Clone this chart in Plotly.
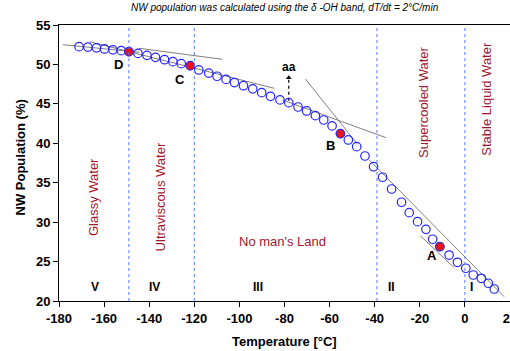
import plotly.graph_objects as go

# ---- data ----
temperature = [-171.1, -167.2, -163.4, -159.8, -156.1, -152.4, -149.0, -145.0, -141.0, -137.2,
               -133.2, -129.5, -125.8, -121.8, -118.0, -113.6, -109.9, -105.9, -102.2, -98.2,
               -94.1, -90.1, -86.2, -82.0, -78.1, -74.0, -70.2, -66.3, -62.6, -58.9,
               -55.2, -51.7, -48.0, -44.3, -40.5, -36.5, -32.5, -28.1, -24.7, -21.0,
               -17.3, -14.3, -11.1, -7.0, -3.3, 0.4, 3.7, 7.3, 10.4, 13.0]
nw_population = [52.25, 52.2, 52.1, 51.96, 51.85, 51.75, 51.62, 51.4, 51.15, 50.9,
                 50.6, 50.35, 50.1, 49.84, 49.3, 48.9, 48.5, 48.1, 47.7, 47.3,
                 46.9, 46.42, 45.95, 45.5, 45.15, 44.6, 44.1, 43.5, 42.95, 42.2,
                 41.22, 40.42, 39.57, 38.39, 37.03, 35.69, 34.2, 32.52, 31.2, 30.06,
                 29.09, 27.83, 26.89, 25.83, 24.91, 24.15, 23.3, 22.88, 22.25, 21.52]

point_labels = ["D", "C", "B", "A"]
point_temp = [-149.0, -121.8, -55.2, -11.1]
point_value = [51.62, 49.84, 41.22, 26.89]
point_label_temp = [-153.5, -126.2, -59.7, -14.6]
point_label_value = [50.0, 48.1, 39.7, 25.8]

# tangent lines (start/end temperature, start/end value)
tangent_t = [(-178.2, -144.3), (-166.4, -84.5), (-144.6, -107.6), (-80.9, -35.0),
             (-70.7, -47.6), (-19.8, -4.75), (-42.4, 17.4)]
tangent_v = [(52.50, 51.54), (52.88, 46.97), (52.05, 50.65), (45.49, 40.71),
             (48.15, 39.87), (28.28, 24.22), (37.88, 20.55)]

aa_temp = -78.1
aa_values = [45.4, 48.3]

boundaries = [-149, -120, -39, 0]

region_names = ["Glassy Water", "Ultraviscous Water", "Supercooled Water", "Stable Liquid Water"]
region_temp = [-164.4, -135.0, -18.3, 9.6]
region_value = [33.2, 33.2, 45.2, 45.6]

roman = ["V", "IV", "III", "II", "I"]
roman_temp = [-164.1, -137.6, -91.9, -32.4, 3.1]
roman_value = 21.8

x_ticks = [-180, -160, -140, -120, -100, -80, -60, -40, -20, 0, 20]
y_ticks = [20, 25, 30, 35, 40, 45, 50, 55]

FONT = "Arial, Liberation Sans, sans-serif"
DARKRED = "#A01830"

fig = go.Figure()

for (t0, t1), (v0, v1) in zip(tangent_t, tangent_v):
    fig.add_trace(go.Scatter(x=[t0, t1], y=[v0, v1], mode="lines",
                             line=dict(color="#808080", width=1), hoverinfo="skip",
                             showlegend=False))

# dotted arrow for "aa"
fig.add_trace(go.Scatter(x=[aa_temp, aa_temp], y=aa_values, mode="lines",
                         line=dict(color="black", width=1.2, dash="dot"),
                         hoverinfo="skip", showlegend=False))
fig.add_trace(go.Scatter(x=[aa_temp], y=[aa_values[1]], mode="markers",
                         marker=dict(symbol="triangle-up", size=5, color="black"),
                         hoverinfo="skip", showlegend=False))

fig.add_trace(go.Scatter(x=temperature, y=nw_population, mode="markers",
                         marker=dict(symbol="circle-open", size=8.5,
                                     line=dict(color="#2626FF", width=1.2), color="#2626FF"),
                         showlegend=False))
fig.add_trace(go.Scatter(x=point_temp, y=point_value, mode="markers",
                         marker=dict(symbol="circle", size=8.5, color="#EE1111",
                                     line=dict(color="#3030E0", width=1)),
                         showlegend=False))

shapes = []
for b in boundaries:
    shapes.append(dict(type="line", xref="x", yref="paper", x0=b, x1=b, y0=0, y1=1,
                       line=dict(color="#4D7CFF", width=1, dash="dot")))

annotations = []
for lab, t, v in zip(point_labels, point_label_temp, point_label_value):
    annotations.append(dict(x=t, y=v, text=lab, showarrow=False,
                            font=dict(family=FONT, size=13, color="black", weight="bold")))
for name, t, v in zip(region_names, region_temp, region_value):
    annotations.append(dict(x=t, y=v, text=name, textangle=-90, showarrow=False,
                            font=dict(family=FONT, size=13, color=DARKRED)))
annotations.append(dict(x=-80.9, y=27.5, text="No man's Land", showarrow=False,
                        font=dict(family=FONT, size=13, color=DARKRED)))
for r, t in zip(roman, roman_temp):
    annotations.append(dict(x=t, y=roman_value, text=r, showarrow=False,
                            font=dict(family=FONT, size=12, color="black", weight="bold")))
annotations.append(dict(x=aa_temp, y=49.7, text="aa", showarrow=False,
                        font=dict(family=FONT, size=12, color="black", weight="bold")))
# subtitle
annotations.append(dict(xref="paper", yref="paper", x=0.5, y=1.065, text=
                        "NW population was calculated using the δ -OH band, dT/dt = 2°C/min",
                        showarrow=False, xanchor="center", yanchor="middle",
                        font=dict(family=FONT, size=10, color="black", style="italic")))
# axis titles
annotations.append(dict(xref="paper", yref="paper", x=-0.0865, y=0.52, text="NW Population (%)",
                        textangle=-90, showarrow=False, xanchor="center", yanchor="middle",
                        font=dict(family=FONT, size=13, color="black", weight="bold")))
annotations.append(dict(xref="paper", yref="paper", x=0.5, y=-0.147, text="Temperature [°C]",
                        showarrow=False, xanchor="center", yanchor="middle",
                        font=dict(family=FONT, size=13, color="black", weight="bold")))

fig.update_layout(
    template="none",
    width=510, height=351,
    margin=dict(l=59, r=0, t=25, b=50),
    paper_bgcolor="white", plot_bgcolor="white",
    shapes=shapes, annotations=annotations,
    showlegend=False,
    xaxis=dict(range=[-180, 20], tickvals=x_ticks, ticktext=[str(v) for v in x_ticks],
               showgrid=False, zeroline=False, showline=True, linecolor="black", linewidth=1,
               mirror=True, ticks="outside", ticklen=5, tickcolor="black", automargin=False,
               ticklabeloverflow="allow",
               tickfont=dict(family=FONT, size=13, color="black", weight="bold")),
    yaxis=dict(range=[20, 55], tickvals=y_ticks, ticktext=[str(v) for v in y_ticks],
               showgrid=False, zeroline=False, showline=True, linecolor="black", linewidth=1,
               ticks="outside", ticklen=5, tickcolor="black", automargin=False,
               tickfont=dict(family=FONT, size=13, color="black", weight="bold")),
)

fig.write_html("out.html", config={"displayModeBar": False},
               post_script="document.body.style.margin='0';document.body.style.overflow='hidden';")
